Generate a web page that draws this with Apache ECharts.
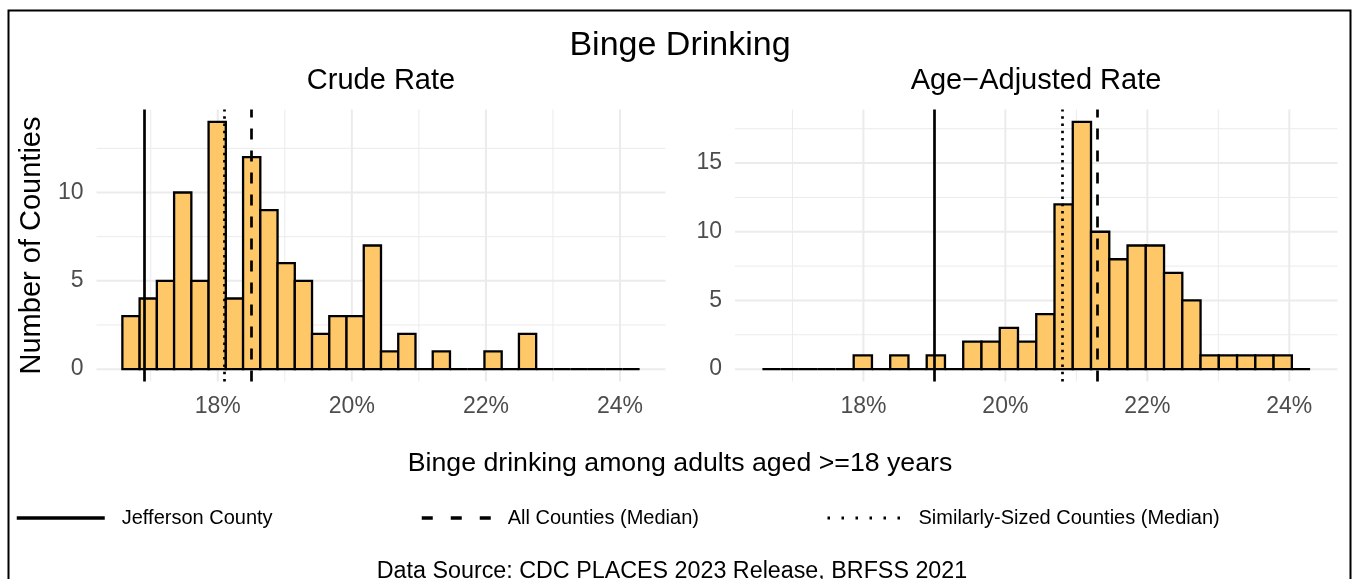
<!DOCTYPE html>
<html>
<head>
<meta charset="utf-8">
<title>Binge Drinking</title>
<script src="https://cdn.jsdelivr.net/npm/echarts@6/dist/echarts.min.js"></script>
<style>
  html, body { margin: 0; padding: 0; background: #fff; }
  #chart { width: 1353px; height: 579px; }
</style>
</head>
<body>
<div id="chart"></div>
<script>
  // histogram bins (30 bins, same edges for both panels)
  const binStart = 16.577;
  const binWidth = 0.2572;
  const crudeCounts = [3, 4, 5, 10, 5, 14, 4, 12, 9, 6, 5, 2, 3, 3, 7, 1, 2, 0, 1, 0, 0, 1, 0, 2, 0, 0, 0, 0, 0, 0];
  const adjustedCounts = [0, 0, 0, 0, 0, 1, 0, 1, 0, 1, 0, 2, 2, 3, 2, 4, 12, 18, 10, 8, 9, 9, 7, 5, 1, 1, 1, 1, 1, 0];

  // reference lines: Jefferson County, all counties median, similarly-sized median
  const refNames = ['Jefferson County', 'All Counties (Median)', 'Similarly-Sized Counties (Median)'];
  const crudeRefValues = [16.9, 18.5, 18.1];
  const adjustedRefValues = [19.0, 21.3, 20.8];

  // ticks
  const xMajorTicks = [18, 20, 22, 24];
  const xMinorTicks = [17, 19, 21, 23];
  const crudeYMajor = [0, 5, 10];
  const crudeYMinor = [2.5, 7.5, 12.5];
  const adjustedYMajor = [0, 5, 10, 15];
  const adjustedYMinor = [2.5, 7.5, 12.5, 17.5];

  const FONT = 'Liberation Sans, Arial, Helvetica, sans-serif';
  const barFill = '#FEC868';
  const gridColor = '#EBEBEB';

  function binData(counts) {
    return counts.map((c, i) => [binStart + i * binWidth, binStart + (i + 1) * binWidth, c]);
  }

  function histSeries(counts, idx) {
    return {
      type: 'custom',
      xAxisIndex: idx,
      yAxisIndex: idx,
      silent: true,
      z: 3,
      data: binData(counts),
      renderItem: (params, api) => {
        const p0 = api.coord([api.value(0), 0]);
        const p1 = api.coord([api.value(1), api.value(2)]);
        return {
          type: 'rect',
          shape: { x: p0[0], y: p1[1], width: p1[0] - p0[0], height: p0[1] - p1[1] },
          style: { fill: barFill, stroke: '#000', lineWidth: 2.3 },
        };
      },
    };
  }

  // gridlines drawn through the axis scale
  function gridSeries(values, idx, dim, width) {
    return {
      type: 'custom',
      xAxisIndex: idx,
      yAxisIndex: idx,
      silent: true,
      z: 1,
      data: values.map((v) => [v]),
      renderItem: (params, api) => {
        const cs = params.coordSys;
        const v = api.value(0);
        let shape;
        if (dim === 'x') {
          const x = api.coord([v, 0])[0];
          shape = { x1: x, y1: cs.y, x2: x, y2: cs.y + cs.height };
        } else {
          const y = api.coord([binStart, v])[1];
          shape = { x1: cs.x, y1: y, x2: cs.x + cs.width, y2: y };
        }
        return { type: 'line', shape: shape, style: { stroke: gridColor, lineWidth: width } };
      },
    };
  }

  const legendStyles = [
    { color: '#000', width: 3.5, type: 'solid' },
    { color: '#000', width: 3.5, type: [11, 18] },
    { color: '#000', width: 3, type: [2.5, 11.5] },
  ];
  const panelStyles = [
    { color: '#000', width: 2.7, type: 'solid' },
    { color: '#000', width: 2.7, type: [11, 11] },
    { color: '#000', width: 2.7, type: [2.5, 4.8] },
  ];

  function refSeries(values, idx) {
    return values.map((v, k) => ({
      name: refNames[k],
      type: 'line',
      xAxisIndex: idx,
      yAxisIndex: idx,
      symbol: 'none',
      z: 5,
      data: [],
      lineStyle: legendStyles[k],
      markLine: {
        silent: true,
        symbol: ['none', 'none'],
        label: { show: false },
        lineStyle: panelStyles[k],
        data: [{ xAxis: v }],
      },
    }));
  }

  function xAxisOpt(idx) {
    return {
      type: 'value',
      gridIndex: idx,
      min: 16.191,
      max: 24.679,
      axisLine: { show: false },
      axisTick: { show: false },
      splitLine: { show: false },
      axisLabel: {
        customValues: xMajorTicks,
        formatter: '{value}%',
        fontSize: 23,
        color: '#4D4D4D',
        margin: 14,
        fontFamily: FONT,
      },
    };
  }

  function yAxisOpt(idx, min, max, ticks) {
    return {
      type: 'value',
      gridIndex: idx,
      min: min,
      max: max,
      axisLine: { show: false },
      axisTick: { show: false },
      splitLine: { show: false },
      axisLabel: {
        customValues: ticks,
        fontSize: 23,
        color: '#4D4D4D',
        margin: 13,
        fontFamily: FONT,
      },
    };
  }

  const chart = echarts.init(document.getElementById('chart'));

  const titleStyle = (size) => ({ fontSize: size, fontWeight: 'normal', color: '#000', fontFamily: FONT });

  const leftY = yAxisOpt(0, -0.7, 14.7, crudeYMajor);
  leftY.name = 'Number of Counties';
  leftY.nameLocation = 'middle';
  leftY.nameRotate = 90;
  leftY.nameGap = 50;
  leftY.nameTextStyle = { fontSize: 29, color: '#000', fontFamily: FONT };

  const legendCommon = {
    top: 508,
    itemHeight: 14,
    padding: 0,
    selectedMode: false,
    itemStyle: { opacity: 0 },
    textStyle: { fontSize: 20, color: '#000', fontFamily: FONT, padding: [0, 0, 0, 12] },
  };

  const option = {
    animation: false,
    textStyle: { fontFamily: FONT },
    title: [
      { text: 'Binge Drinking', left: 680, textAlign: 'center', top: 29, padding: 0, textStyle: titleStyle(34) },
      { text: 'Crude Rate', left: 381, textAlign: 'center', top: 66, padding: 0, textStyle: titleStyle(29) },
      { text: 'Age\u2212Adjusted Rate', left: 1036, textAlign: 'center', top: 66, padding: 0, textStyle: titleStyle(29) },
      { text: 'Binge drinking among adults aged >=18 years', left: 680, textAlign: 'center', top: 450, padding: 0, textStyle: titleStyle(26.7) },
      { text: 'Data Source: CDC PLACES 2023 Release, BRFSS 2021', left: 672, textAlign: 'center', top: 560, padding: 0, textStyle: titleStyle(23.3) },
    ],
    legend: refNames.map((name, k) => Object.assign({}, legendCommon, {
      data: [name],
      left: [15, 420, 826][k],
      itemWidth: [88, 69, 74][k],
      lineStyle: { width: legendStyles[k].width, type: legendStyles[k].type, color: '#000' },
    })),
    grid: [
      { left: 96.5, top: 109.5, width: 569, height: 272, outerBoundsMode: 'none' },
      { left: 735, top: 109.5, width: 602.5, height: 272, outerBoundsMode: 'none' },
    ],
    xAxis: [xAxisOpt(0), xAxisOpt(1)],
    yAxis: [leftY, yAxisOpt(1, -0.9, 18.9, adjustedYMajor)],
    graphic: [
      {
        type: 'rect',
        silent: true,
        shape: { x: 8.5, y: 10.5, width: 1342, height: 620 },
        style: { fill: 'none', stroke: '#000', lineWidth: 2 },
      },
    ],
    series: [
      gridSeries(xMinorTicks, 0, 'x', 1),
      gridSeries(xMajorTicks, 0, 'x', 2),
      gridSeries(crudeYMinor, 0, 'y', 1),
      gridSeries(crudeYMajor, 0, 'y', 2),
      gridSeries(xMinorTicks, 1, 'x', 1),
      gridSeries(xMajorTicks, 1, 'x', 2),
      gridSeries(adjustedYMinor, 1, 'y', 1),
      gridSeries(adjustedYMajor, 1, 'y', 2),
      histSeries(crudeCounts, 0),
      histSeries(adjustedCounts, 1),
      ...refSeries(crudeRefValues, 0),
      ...refSeries(adjustedRefValues, 1),
    ],
  };

  chart.setOption(option);
</script>
</body>
</html>
